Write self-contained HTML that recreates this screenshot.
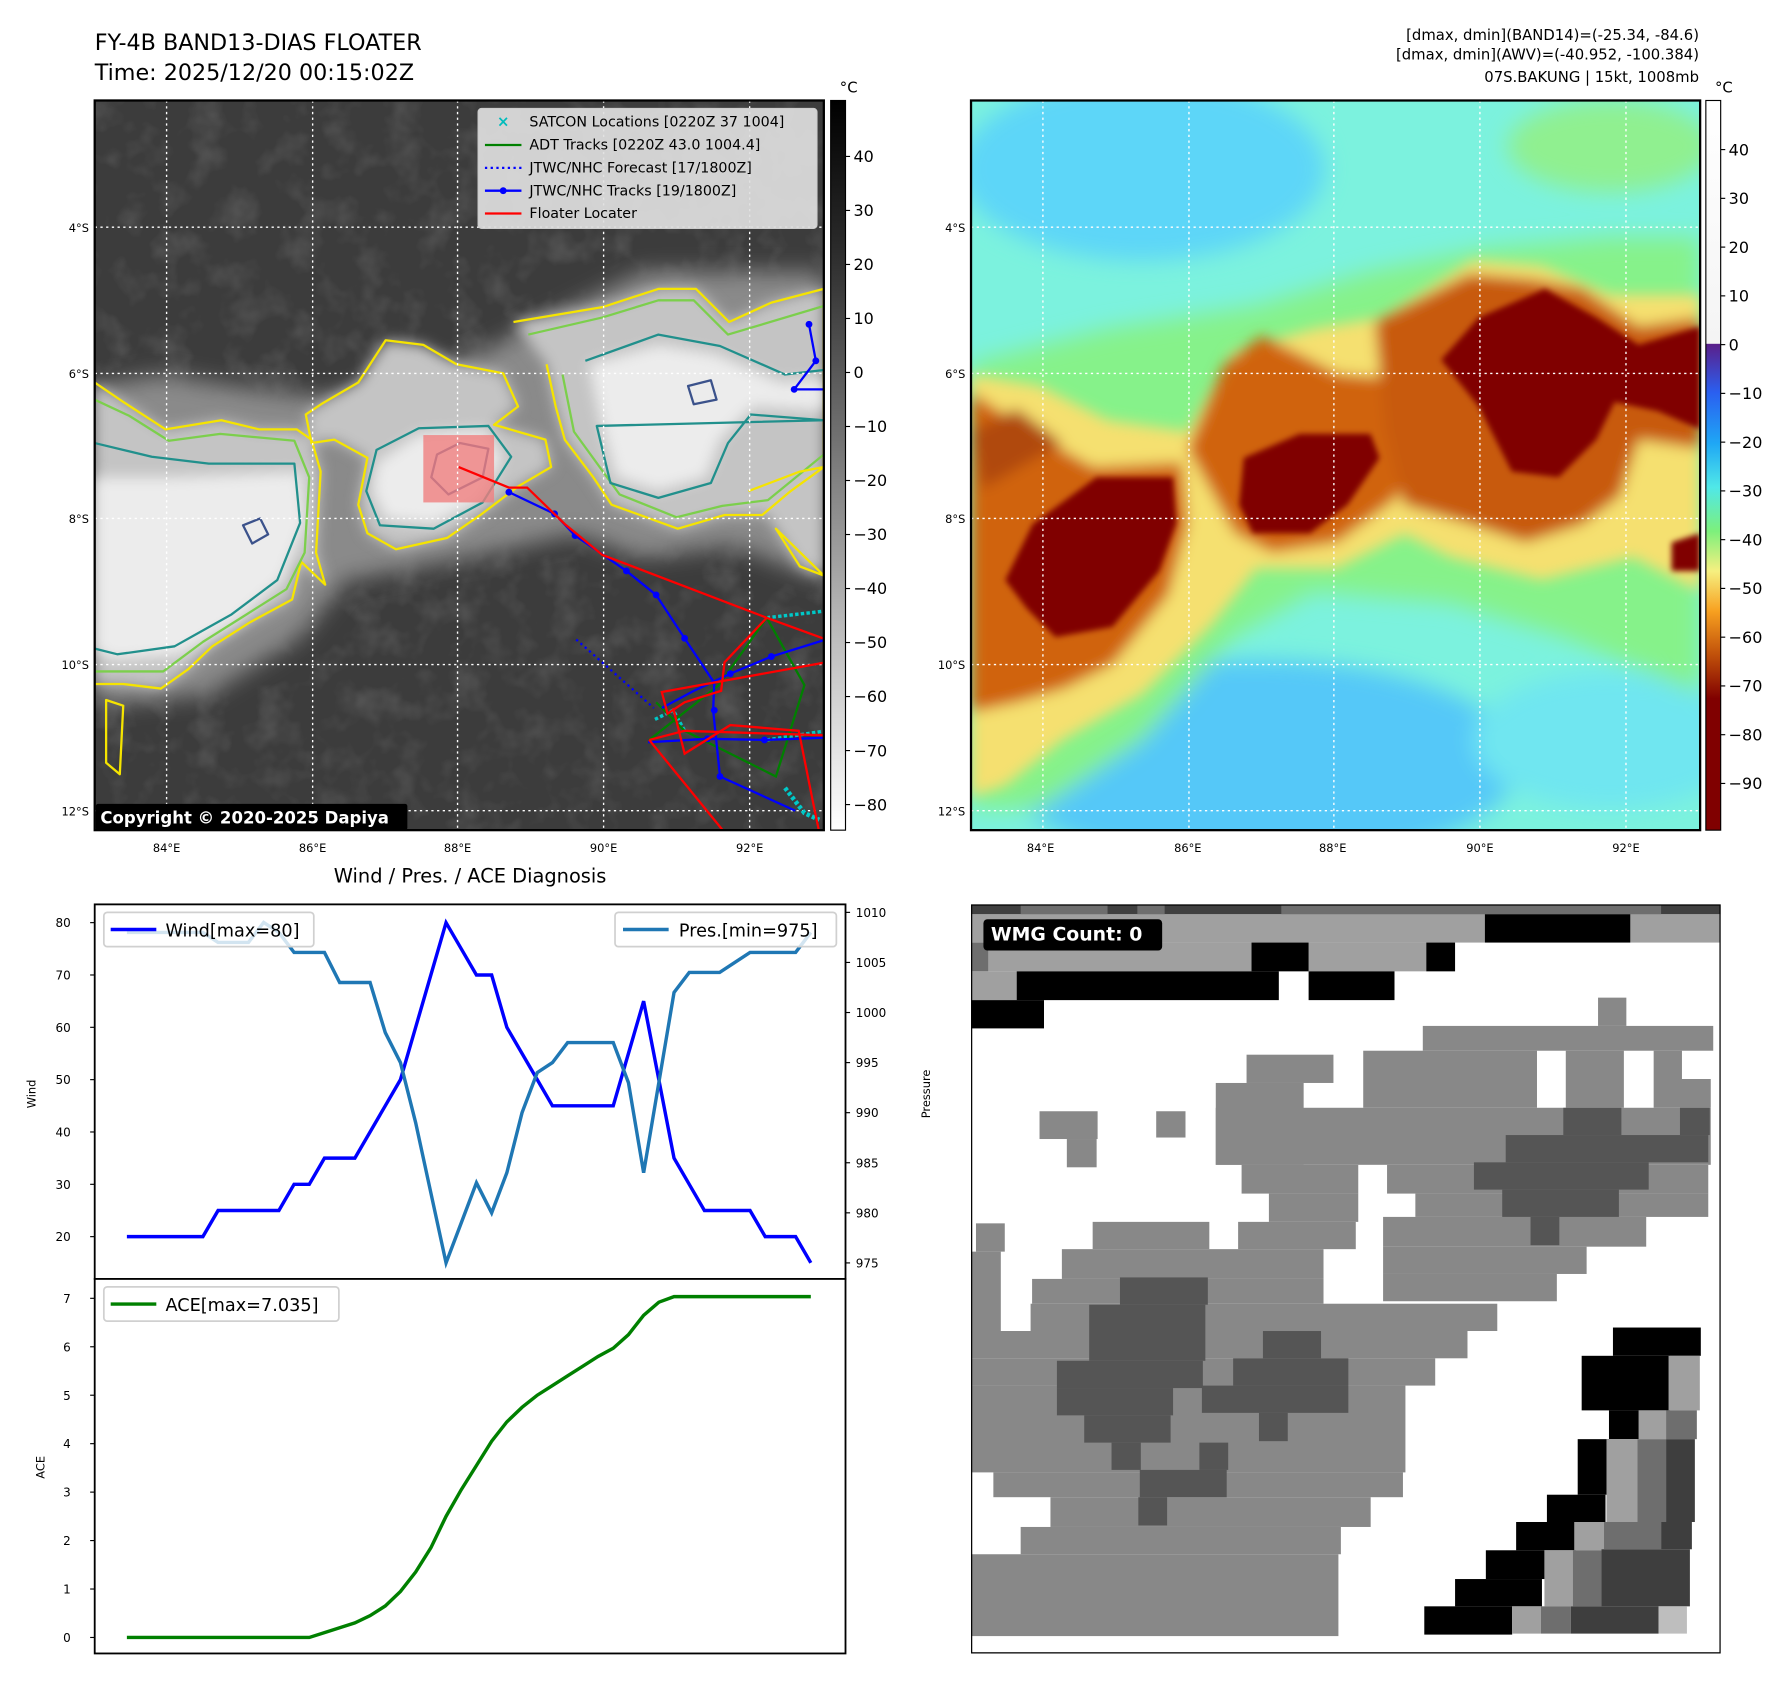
<!DOCTYPE html>
<html><head><meta charset="utf-8"><title>FY-4B BAND13 DIAS Floater</title>
<style>html,body{margin:0;padding:0;background:#fff}svg{display:block}text{font-family:"DejaVu Sans","Liberation Sans",sans-serif}</style>
</head><body>
<svg id="root" xmlns="http://www.w3.org/2000/svg" width="1788" height="1690" viewBox="0 0 1567 1480" preserveAspectRatio="none">
<defs>
<filter id="blur6" x="-20%" y="-20%" width="140%" height="140%"><feGaussianBlur stdDeviation="6"/></filter>
<filter id="blur10" x="-20%" y="-20%" width="140%" height="140%"><feGaussianBlur stdDeviation="10"/></filter>
<filter id="blur3"><feGaussianBlur stdDeviation="2.5"/></filter>
<filter id="tex" x="0" y="0" width="100%" height="100%"><feTurbulence type="fractalNoise" baseFrequency="0.035" numOctaves="3" seed="4"/><feColorMatrix type="matrix" values="0 0 0 0 1  0 0 0 0 1  0 0 0 0 1  1.2 0 0 0 -0.55"/></filter>
<linearGradient id="cbGray" x1="0" y1="0" x2="0" y2="1"><stop offset="0" stop-color="#000"/><stop offset="0.2" stop-color="#2a2a2a"/><stop offset="0.45" stop-color="#6e6e6e"/><stop offset="0.7" stop-color="#b4b4b4"/><stop offset="1" stop-color="#fff"/></linearGradient>
<linearGradient id="cbJet" x1="0" y1="0" x2="0" y2="1"><stop offset="0" stop-color="#fff"/><stop offset="0.333" stop-color="#f4f4f4"/><stop offset="0.334" stop-color="#5a1f8a"/><stop offset="0.40" stop-color="#2a5ff0"/><stop offset="0.47" stop-color="#1fa7f5"/><stop offset="0.53" stop-color="#50e8e8"/><stop offset="0.59" stop-color="#7cf07c"/><stop offset="0.645" stop-color="#f6f080"/><stop offset="0.70" stop-color="#f7a020"/><stop offset="0.76" stop-color="#c0500a"/><stop offset="0.82" stop-color="#800000"/><stop offset="1" stop-color="#800000"/></linearGradient>
<clipPath id="clipMap"><rect x="0" y="0" width="639" height="639"/></clipPath>
</defs>

<text x="83" y="44" font-size="19.5">FY-4B BAND13-DIAS FLOATER</text>
<text x="83" y="70" font-size="19.5">Time: 2025/12/20 00:15:02Z</text>
<text x="1489" y="35" font-size="13" text-anchor="end">[dmax, dmin](BAND14)=(-25.34, -84.6)</text>
<text x="1489" y="52" font-size="13" text-anchor="end">[dmax, dmin](AWV)=(-40.952, -100.384)</text>
<text x="1489" y="72" font-size="13" text-anchor="end">07S.BAKUNG | 15kt, 1008mb</text>

<g transform="translate(83,88)">
 <g clip-path="url(#clipMap)">
  <rect width="639" height="639" fill="#3c3c3c"/>
  <rect width="639" height="639" filter="url(#tex)" opacity="0.22"/>
  <g filter="url(#blur10)" fill="#8a8a8a">
   <path d="M0,250 L60,240 L120,250 L200,260 L260,250 L330,225 L400,190 L480,150 L560,150 L639,150 L639,420 L560,390 L480,400 L420,380 L330,400 L220,420 L180,470 L100,520 L0,530 Z"/>
  </g>
  <g filter="url(#blur6)" fill="#c4c4c4">
   <path d="M0,247 L25,264 L62,288 L111,280 L144,288 L177,288 L190,297 L198,325 L194,396 L202,424 L181,404 L173,437 L136,457 L103,478 L82,498 L58,515 L25,511 L0,511 Z"/>
   <path d="M231,247 L255,210 L288,214 L317,231 L358,239 L371,268 L350,284 L395,297 L400,321 L371,338 L338,363 L309,383 L264,393 L239,379 L231,354 L239,313 L210,297 L190,300 L185,275 L200,265 Z"/>
   <path d="M367,194 L445,181 L494,165 L527,165 L556,194 L593,177 L639,165 L639,321 L610,342 L585,363 L552,363 L511,375 L453,354 L437,330 L412,297 L404,268 L396,231 Z"/>
   <path d="M573,342 L618,325 L639,321 L639,416 L618,408 L597,375 Z"/>
  </g>
  <g filter="url(#blur6)" fill="#ececec">
   <path d="M0,330 L70,330 L181,325 L185,371 L165,420 L124,457 L74,486 L16,490 L0,482 Z"/>
   <path d="M247,317 L284,292 L342,288 L358,313 L338,350 L297,371 L255,367 L243,342 Z"/>
   <path d="M433,231 L494,214 L544,222 L602,247 L639,243 L639,272 L577,268 L548,297 L536,330 L494,342 L457,330 L445,288 Z"/>
  </g>
  <g fill="none" stroke-width="2" stroke-linejoin="round">
   <path stroke="#f5e400" d="M0,247 L25,264 L62,288 L111,280 L144,288 L177,288 L190,297 L198,325 L194,396 L202,424 L181,404 L173,437 L136,457 L103,478 L82,498 L58,515 L25,511 L0,511"/>
   <path stroke="#7ccf4c" d="M0,262 L30,276 L65,298 L110,292 L175,298 L188,330 L184,396 L168,428 L130,452 L95,474 L60,500 L0,500"/>
   <path stroke="#21908c" d="M0,300 L50,312 L100,318 L175,318 L180,370 L160,420 L120,450 L70,478 L20,485 L0,480"/>
   <path stroke="#f5e400" d="M231,247 L255,210 L288,214 L317,231 L358,239 L371,268 L350,284 L395,297 L400,321 L371,338 L338,363 L309,383 L264,393 L239,379 L231,354 L239,313 L210,297 L190,300 L185,275 L200,265 Z"/>
   <path stroke="#21908c" d="M247,306 L284,287 L345,285 L365,312 L340,352 L297,375 L250,372 L238,342 Z"/>
   <path stroke="#f5e400" d="M367,194 L445,181 L494,165 L527,165 L556,194 L593,177 L639,165 L639,321 L610,342 L585,363 L552,363 L511,375 L453,354 L437,330 L412,297 L404,268 L396,231"/>
   <path stroke="#7ccf4c" d="M380,205 L445,190 L494,175 L525,175 L555,205 L639,180 M639,310 L590,350 L550,355 L510,365 L460,345 L420,290 L410,240"/>
   <path stroke="#21908c" d="M430,228 L494,205 L548,215 L605,240 L639,236 M639,280 L575,275 L555,300 L540,335 L494,348 L452,335 L440,285 Z"/>
   <path stroke="#3b528b" d="M300,310 L320,300 L345,305 L340,330 L310,345 L295,330 Z M520,250 L540,245 L545,262 L525,266 Z M130,372 L145,366 L152,380 L138,388 Z"/>
   <path stroke="#f5e400" d="M573,342 L618,325 L639,321 M639,416 L618,408 L597,375 Z M10,525 L25,530 L22,590 L10,580 Z"/>
  </g>
  <rect x="288" y="293" width="62" height="59" fill="#f08080" opacity="0.8"/>
  <g stroke="#fff" stroke-width="1.2" stroke-dasharray="2,3">
   <line x1="63" y1="0" x2="63" y2="639"/><line x1="191" y1="0" x2="191" y2="639"/><line x1="318" y1="0" x2="318" y2="639"/><line x1="446" y1="0" x2="446" y2="639"/><line x1="574" y1="0" x2="574" y2="639"/>
   <line x1="0" y1="111" x2="639" y2="111"/><line x1="0" y1="239" x2="639" y2="239"/><line x1="0" y1="366" x2="639" y2="366"/><line x1="0" y1="494" x2="639" y2="494"/><line x1="0" y1="622" x2="639" y2="622"/>
  </g>
  <g transform="translate(-83,-88)" fill="none" stroke-width="2">
   <polyline stroke="#00c8c8" stroke-width="3" stroke-dasharray="3,2" points="672,541 724,535"/>
   <polyline stroke="#00c8c8" stroke-width="3" stroke-dasharray="3,2" points="672,648 724,640"/>
   <polyline stroke="#00c8c8" stroke-width="3" stroke-dasharray="3,2" points="574,630 590,622 600,640"/>
   <polyline stroke="#00c8c8" stroke-width="4" stroke-dasharray="3,2" points="688,690 705,712 718,718"/>
   <polyline stroke="#008000" points="569,648 630,600 672,541 705,600 680,680 640,660 620,650 600,640 575,615"/>
   <polyline stroke="#0000ff" stroke-dasharray="2,3" points="505,560 573,620"/>
   <polyline stroke="#0000ff" points="446,431 486,450 504,469 549,500 575,521 600,559 626,598 625,622 631,680 697,710"/>
   <polyline stroke="#0000ff" points="580,620 608,605 640,590 676,575 724,560"/>
   <polyline stroke="#0000ff" points="568,650 620,647 670,648 724,646"/>
   <polyline stroke="#0000ff" points="709,284 715,316 696,341 724,341"/>
   <g fill="#0000ff" stroke="none"><circle cx="446" cy="431" r="3"/><circle cx="486" cy="450" r="3"/><circle cx="504" cy="469" r="3"/><circle cx="549" cy="500" r="3"/><circle cx="575" cy="521" r="3"/><circle cx="600" cy="559" r="3"/><circle cx="626" cy="622" r="3"/><circle cx="631" cy="680" r="3"/><circle cx="640" cy="590" r="3"/><circle cx="676" cy="575" r="3"/><circle cx="620" cy="647" r="3"/><circle cx="670" cy="648" r="3"/><circle cx="709" cy="284" r="3"/><circle cx="715" cy="316" r="3"/><circle cx="696" cy="341" r="3"/></g>
   <polyline stroke="#ff0000" points="402,409 446,427 462,427 495,459 528,486 672,541 724,560"/>
   <polyline stroke="#ff0000" points="672,541 635,580 632,605 600,615 585,625 580,606 724,580"/>
   <polyline stroke="#ff0000" points="569,648 600,640 724,644"/>
   <polyline stroke="#ff0000" points="569,648 635,729"/>
   <polyline stroke="#ff0000" points="590,620 600,660 640,635 700,640 712,700 718,729"/>
  </g>
 </g>
 <rect width="639" height="639" fill="none" stroke="#000" stroke-width="2"/>
</g>
<g>
 <rect x="419" y="95" width="297" height="105" rx="3" fill="#e0e0e0" fill-opacity="0.92" stroke="#ccc"/>
 <text x="441" y="111" font-size="13" fill="#00bcbc" text-anchor="middle" font-weight="bold">×</text>
 <text x="464" y="111" font-size="12.5">SATCON Locations [0220Z 37 1004]</text>
 <line x1="425" y1="127" x2="457" y2="127" stroke="#008000" stroke-width="2"/>
 <text x="464" y="131" font-size="12.5">ADT Tracks [0220Z 43.0 1004.4]</text>
 <line x1="425" y1="147" x2="457" y2="147" stroke="#0000ff" stroke-width="2" stroke-dasharray="2,3"/>
 <text x="464" y="151" font-size="12.5">JTWC/NHC Forecast [17/1800Z]</text>
 <line x1="425" y1="167" x2="457" y2="167" stroke="#0000ff" stroke-width="2"/><circle cx="441" cy="167" r="3" fill="#0000ff"/>
 <text x="464" y="171" font-size="12.5">JTWC/NHC Tracks [19/1800Z]</text>
 <line x1="425" y1="187" x2="457" y2="187" stroke="#ff0000" stroke-width="2"/>
 <text x="464" y="191" font-size="12.5">Floater Locater</text>
</g>
<g>
 <rect x="84" y="704" width="273" height="23" rx="2" fill="#000"/>
 <text x="88" y="721" font-size="14.5" font-weight="bold" fill="#fff">Copyright © 2020-2025 Dapiya</text>
</g>

<g transform="translate(851,88)">
 <g clip-path="url(#clipMap)">
  <rect width="639" height="639" fill="#7cf2de"/>
  <g filter="url(#blur10)">
   <ellipse cx="150" cy="60" rx="160" ry="80" fill="#5dd6f8"/>
   <ellipse cx="250" cy="580" rx="230" ry="90" fill="#55c8f8"/>
   <ellipse cx="560" cy="560" rx="120" ry="60" fill="#70e6f0"/>
   <path d="M0,230 L120,200 L250,180 L350,150 L450,130 L560,120 L639,120 L639,520 L520,470 L420,440 L300,430 L230,470 L150,560 L60,620 L0,620 Z" fill="#86f28a"/>
   <ellipse cx="560" cy="40" rx="90" ry="40" fill="#90f090"/>
  </g>
  <g filter="url(#blur6)">
   <path d="M0,240 L60,250 L120,280 L190,290 L230,220 L300,200 L360,190 L440,140 L500,145 L560,170 L639,170 L639,430 L580,400 L500,420 L420,400 L380,380 L320,410 L250,410 L210,460 L150,520 L80,560 L30,600 L0,610 Z" fill="#f5e070"/>
   <path d="M0,255 L49,288 L107,321 L185,317 L190,371 L173,433 L124,494 L82,515 L41,527 L0,536 Z" fill="#d0640f"/>
   <path d="M222,231 L255,206 L288,222 L321,239 L363,243 L371,272 L396,305 L371,350 L321,387 L264,396 L231,379 L190,305 Z" fill="#d0640f"/>
   <path d="M354,194 L437,152 L494,157 L536,165 L585,198 L639,190 L639,305 L585,297 L569,346 L536,371 L486,387 L437,371 L379,354 L363,288 Z" fill="#c85a0c"/>
   <path d="M0,290 L40,270 L80,300 L10,340 Z" fill="#b04808"/>
  </g>
  <g filter="url(#blur3)" fill="#800000">
   <path d="M54,371 L110,330 L177,330 L180,370 L165,412 L124,461 L74,470 L49,445 L30,420 Z"/>
   <path d="M239,313 L288,292 L350,292 L358,313 L330,354 L297,379 L247,379 L235,354 Z"/>
   <path d="M412,227 L445,190 L503,165 L548,190 L585,214 L639,198 L639,288 L602,272 L564,264 L548,297 L515,330 L474,325 L445,268 Z"/>
   <path d="M614,387 L639,379 L639,412 L614,412 Z"/>
  </g>
  <g stroke="#fff" stroke-width="1.2" stroke-dasharray="2,3">
   <line x1="63" y1="0" x2="63" y2="639"/><line x1="191" y1="0" x2="191" y2="639"/><line x1="318" y1="0" x2="318" y2="639"/><line x1="446" y1="0" x2="446" y2="639"/><line x1="574" y1="0" x2="574" y2="639"/>
   <line x1="0" y1="111" x2="639" y2="111"/><line x1="0" y1="239" x2="639" y2="239"/><line x1="0" y1="366" x2="639" y2="366"/><line x1="0" y1="494" x2="639" y2="494"/><line x1="0" y1="622" x2="639" y2="622"/>
  </g>
 </g>
 <rect width="639" height="639" fill="none" stroke="#000" stroke-width="2"/>
</g>

<g font-size="10">
 <g text-anchor="end">
  <text x="78" y="203">4°S</text><text x="78" y="331">6°S</text><text x="78" y="458">8°S</text><text x="78" y="586">10°S</text><text x="78" y="714">12°S</text>
  <text x="846" y="203">4°S</text><text x="846" y="331">6°S</text><text x="846" y="458">8°S</text><text x="846" y="586">10°S</text><text x="846" y="714">12°S</text>
 </g>
 <g text-anchor="middle">
  <text x="146" y="746">84°E</text><text x="274" y="746">86°E</text><text x="401" y="746">88°E</text><text x="529" y="746">90°E</text><text x="657" y="746">92°E</text>
  <text x="912" y="746">84°E</text><text x="1041" y="746">86°E</text><text x="1168" y="746">88°E</text><text x="1297" y="746">90°E</text><text x="1425" y="746">92°E</text>
 </g>
</g>

<g>
 <rect x="728" y="88" width="13" height="639" fill="url(#cbGray)" stroke="#000" stroke-width="1"/>
 <text x="736" y="81" font-size="13">°C</text>
 <g font-size="14" id="cbL"></g>
</g>
<g>
 <rect x="1495" y="88" width="13" height="639" fill="url(#cbJet)" stroke="#000" stroke-width="1"/>
 <text x="1503" y="81" font-size="13">°C</text>
 <g font-size="14" id="cbR"></g>
</g>

<text x="412" y="773" font-size="17" text-anchor="middle">Wind / Pres. / ACE Diagnosis</text>
<g id="chart"></g>

<svg x="851" y="792" width="657" height="656" viewBox="20 5 1510 1510" preserveAspectRatio="none">
 <rect x="20" y="5" width="1510" height="1510" fill="#fff"/>
 <g fill="#404040"><rect x="20" y="5" width="1510" height="20"/></g>
 <g fill="#6e6e6e"><rect x="120" y="5" width="175" height="20"/><rect x="355" y="5" width="55" height="20"/><rect x="645" y="5" width="765" height="20"/><rect x="20" y="82" width="35" height="58"/></g>
 <g fill="#a0a0a0"><rect x="20" y="25" width="1035" height="57"/><rect x="1348" y="25" width="180" height="57"/><rect x="55" y="82" width="530" height="58"/><rect x="700" y="82" width="237" height="58"/><rect x="20" y="140" width="92" height="58"/></g>
 <g fill="#000"><rect x="1055" y="25" width="293" height="57"/><rect x="585" y="82" width="115" height="58"/><rect x="937" y="82" width="58" height="58"/><rect x="112" y="140" width="528" height="58"/><rect x="700" y="140" width="173" height="58"/><rect x="20" y="198" width="147" height="57"/></g>
 <g fill="#888">
  <rect x="1283" y="193" width="57" height="57"/><rect x="930" y="250" width="585" height="50"/>
  <rect x="575" y="308" width="175" height="57"/><rect x="810" y="300" width="350" height="115"/><rect x="1218" y="300" width="117" height="115"/><rect x="1395" y="300" width="57" height="57"/><rect x="1395" y="357" width="115" height="58"/>
  <rect x="513" y="365" width="177" height="165"/><rect x="513" y="415" width="997" height="115"/>
  <rect x="158" y="422" width="117" height="56"/><rect x="213" y="478" width="60" height="57"/><rect x="393" y="422" width="59" height="53"/>
  <rect x="565" y="530" width="235" height="58"/><rect x="858" y="530" width="647" height="58"/>
  <rect x="620" y="588" width="180" height="57"/><rect x="915" y="588" width="590" height="47"/>
  <rect x="558" y="645" width="237" height="55"/><rect x="850" y="635" width="530" height="60"/>
  <rect x="265" y="645" width="235" height="55"/><rect x="30" y="648" width="58" height="57"/>
  <rect x="203" y="700" width="527" height="60"/><rect x="850" y="695" width="410" height="55"/>
  <rect x="20" y="705" width="60" height="165"/><rect x="143" y="760" width="587" height="50"/><rect x="850" y="750" width="350" height="55"/>
  <rect x="140" y="810" width="940" height="55"/><rect x="20" y="865" width="1000" height="55"/><rect x="20" y="920" width="935" height="55"/>
  <rect x="20" y="975" width="875" height="175"/><rect x="65" y="1150" width="825" height="50"/><rect x="180" y="1200" width="645" height="60"/>
  <rect x="120" y="1260" width="645" height="55"/><rect x="20" y="1315" width="740" height="165"/>
 </g>
 <g fill="#555">
  <rect x="1213" y="415" width="117" height="55"/><rect x="1448" y="415" width="60" height="55"/><rect x="1097" y="470" width="408" height="55"/><rect x="1033" y="525" width="352" height="55"/><rect x="1090" y="580" width="235" height="55"/><rect x="1147" y="635" width="58" height="57"/>
  <rect x="320" y="757" width="177" height="55"/><rect x="258" y="812" width="234" height="113"/><rect x="193" y="925" width="294" height="55"/><rect x="193" y="980" width="234" height="55"/><rect x="248" y="1035" width="174" height="55"/><rect x="303" y="1090" width="59" height="55"/>
  <rect x="608" y="865" width="117" height="55"/><rect x="548" y="920" width="232" height="55"/><rect x="485" y="975" width="295" height="55"/><rect x="600" y="1030" width="58" height="57"/>
  <rect x="480" y="1090" width="58" height="55"/><rect x="360" y="1145" width="175" height="55"/><rect x="357" y="1200" width="58" height="57"/>
 </g>
 <g fill="#000">
  <rect x="1313" y="858" width="177" height="57"/><rect x="1250" y="915" width="178" height="110"/><rect x="1305" y="1025" width="60" height="58"/><rect x="1242" y="1083" width="63" height="112"/><rect x="1180" y="1195" width="118" height="55"/><rect x="1118" y="1250" width="120" height="57"/><rect x="1057" y="1307" width="118" height="58"/><rect x="995" y="1365" width="175" height="55"/><rect x="933" y="1420" width="177" height="57"/>
 </g>
 <g fill="#a0a0a0"><rect x="1425" y="915" width="63" height="110"/><rect x="1365" y="1025" width="55" height="58"/><rect x="1300" y="1083" width="62" height="167"/><rect x="1235" y="1250" width="60" height="57"/><rect x="1175" y="1307" width="57" height="113"/><rect x="1110" y="1420" width="58" height="55"/></g>
 <g fill="#6e6e6e"><rect x="1420" y="1025" width="62" height="58"/><rect x="1362" y="1083" width="58" height="167"/><rect x="1295" y="1250" width="115" height="55"/><rect x="1232" y="1307" width="58" height="113"/><rect x="1168" y="1420" width="60" height="55"/></g>
 <g fill="#3e3e3e"><rect x="1420" y="1083" width="58" height="167"/><rect x="1410" y="1250" width="62" height="55"/><rect x="1290" y="1305" width="178" height="115"/><rect x="1228" y="1420" width="177" height="55"/></g>
 <rect x="1405" y="1420" width="57" height="55" fill="#bebebe"/>
 <rect x="45" y="35" width="360" height="63" rx="8" fill="#000"/>
 <text x="60" y="78" font-size="38" font-weight="bold" fill="#fff">WMG Count: 0</text>
 <rect x="20" y="5" width="1510" height="1510" fill="none" stroke="#000" stroke-width="5"/>
</svg>

<script>
// ---- chart data ----
const timeIndex = [0,1,2,3,4,5,6,7,8,9,10,11,12,13,14,15,16,17,18,19,20,21,22,23,24,25,26,27,28,29,30,31,32,33,34,35,36,37,38,39,40,41,42,43,44,45];
const windValues = [20,20,20,20,20,20,25,25,25,25,25,30,30,35,35,35,40,45,50,60,70,80,75,70,70,60,55,50,45,45,45,45,45,55,65,50,35,30,25,25,25,25,20,20,20,15];
const presValues = [1008,1008,1008,1008,1008,1008,1007,1007,1007,1009,1008,1006,1006,1006,1003,1003,1003,998,995,989,982,975,979,983,980,984,990,994,995,997,997,997,997,993,984,993,1002,1004,1004,1004,1005,1006,1006,1006,1006,1008];
const aceValues = [0,0,0,0,0,0,0,0,0,0,0,0,0,0.1,0.2,0.3,0.45,0.65,0.95,1.35,1.85,2.5,3.05,3.55,4.05,4.45,4.75,5.0,5.2,5.4,5.6,5.8,5.97,6.25,6.65,6.92,7.035,7.035,7.035,7.035,7.035,7.035,7.035,7.035,7.035,7.035];
const windTicks = [20,30,40,50,60,70,80];
const presTicks = [975,980,985,990,995,1000,1005,1010];
const aceTicks = [0,1,2,3,4,5,6,7];
const irCbTicks = [40,30,20,10,0,-10,-20,-30,-40,-50,-60,-70,-80];
const awvCbTicks = [40,30,20,10,0,-10,-20,-30,-40,-50,-60,-70,-80,-90];

const NS = 'http://www.w3.org/2000/svg';
function mk(tag, attrs, parent){const e=document.createElementNS(NS,tag);for(const k in attrs)e.setAttribute(k,attrs[k]);parent.appendChild(e);return e;}
const xScale = i => 111.2 + i*13.32;
const windY = v => 808 + (80-v)*4.583;
const presY = p => 799 + (1010-p)*8.771;
const aceY = v => 1434 - v*42.43;
const irY = v => 137 + (40-v)*4.73;
const awvY = v => 131 + (40-v)*4.27;

const chart = document.getElementById('chart');
const f1 = mk('rect',{x:83,y:792,width:658,height:328,fill:'#fff',stroke:'#000','stroke-width':1.6},chart);


const f2 = mk('rect',{x:83,y:1120,width:658,height:328,fill:'#fff',stroke:'#000','stroke-width':1.6},chart);



windTicks.forEach(v=>{
  const y=windY(v);
  mk('line',{x1:79,y1:y,x2:83,y2:y,stroke:'#000'},chart);
  const t=mk('text',{x:62,y:y+4,'font-size':10.5,'text-anchor':'end'},chart);t.textContent=v;
  
  
});
presTicks.forEach(v=>{
  const y=presY(v);
  mk('line',{x1:741,y1:y,x2:745,y2:y,stroke:'#000'},chart);
  const t=mk('text',{x:750,y:y+4,'font-size':10.5},chart);t.textContent=v;
  
  
});
aceTicks.forEach(v=>{
  const y=aceY(v);
  mk('line',{x1:79,y1:y,x2:83,y2:y,stroke:'#000'},chart);
  const t=mk('text',{x:62,y:y+4,'font-size':10.5,'text-anchor':'end'},chart);t.textContent=v;
  
  
});
const yl1=mk('text',{x:0,y:0,'font-size':10,transform:'translate(31,958) rotate(-90)','text-anchor':'middle'},chart);yl1.textContent='Wind';


const yl2=mk('text',{x:0,y:0,'font-size':10,transform:'translate(815,958) rotate(-90)','text-anchor':'middle'},chart);yl2.textContent='Pressure';


const yl3=mk('text',{x:0,y:0,'font-size':10,transform:'translate(39,1285) rotate(-90)','text-anchor':'middle'},chart);yl3.textContent='ACE';



const wl=mk('polyline',{points:timeIndex.map(i=>xScale(i)+','+windY(windValues[i])).join(' '),fill:'none',stroke:'#0000ff','stroke-width':3},chart);


const pl=mk('polyline',{points:timeIndex.map(i=>xScale(i)+','+presY(presValues[i])).join(' '),fill:'none',stroke:'#1f77b4','stroke-width':3},chart);


const al=mk('polyline',{points:timeIndex.map(i=>xScale(i)+','+aceY(aceValues[i])).join(' '),fill:'none',stroke:'#008000','stroke-width':3},chart);



const lg1=mk('g',{},chart);


mk('rect',{x:91,y:799,width:184,height:30,rx:3,fill:'#fff','fill-opacity':0.8,stroke:'#d0d0d0','stroke-width':1.5},lg1);
mk('line',{x1:97,y1:814,x2:137,y2:814,stroke:'#0000ff','stroke-width':3},lg1);
const lt1=mk('text',{x:145,y:820,'font-size':15.5},lg1);lt1.textContent='Wind[max=80]';
const lg2=mk('g',{},chart);


mk('rect',{x:539,y:799,width:194,height:30,rx:3,fill:'#fff','fill-opacity':0.8,stroke:'#d0d0d0','stroke-width':1.5},lg2);
mk('line',{x1:546,y1:814,x2:586,y2:814,stroke:'#1f77b4','stroke-width':3},lg2);
const lt2=mk('text',{x:595,y:820,'font-size':15.5},lg2);lt2.textContent='Pres.[min=975]';
const lg3=mk('g',{},chart);


mk('rect',{x:91,y:1127,width:206,height:30,rx:3,fill:'#fff','fill-opacity':0.8,stroke:'#d0d0d0','stroke-width':1.5},lg3);
mk('line',{x1:97,y1:1142,x2:137,y2:1142,stroke:'#008000','stroke-width':3},lg3);
const lt3=mk('text',{x:145,y:1148,'font-size':15.5},lg3);lt3.textContent='ACE[max=7.035]';

const cbL=document.getElementById('cbL');
irCbTicks.forEach(v=>{
  const y=irY(v);
  mk('line',{x1:741,y1:y,x2:745,y2:y,stroke:'#000'},cbL);
  const t=mk('text',{x:748,y:y+5},cbL);t.textContent=(v<0?'\u2212'+(-v):v);
  
  
});
const cbR=document.getElementById('cbR');
awvCbTicks.forEach(v=>{
  const y=awvY(v);
  mk('line',{x1:1508,y1:y,x2:1512,y2:y,stroke:'#000'},cbR);
  const t=mk('text',{x:1515,y:y+5},cbR);t.textContent=(v<0?'\u2212'+(-v):v);
  
  
});
</script>
</svg>
</body></html>
